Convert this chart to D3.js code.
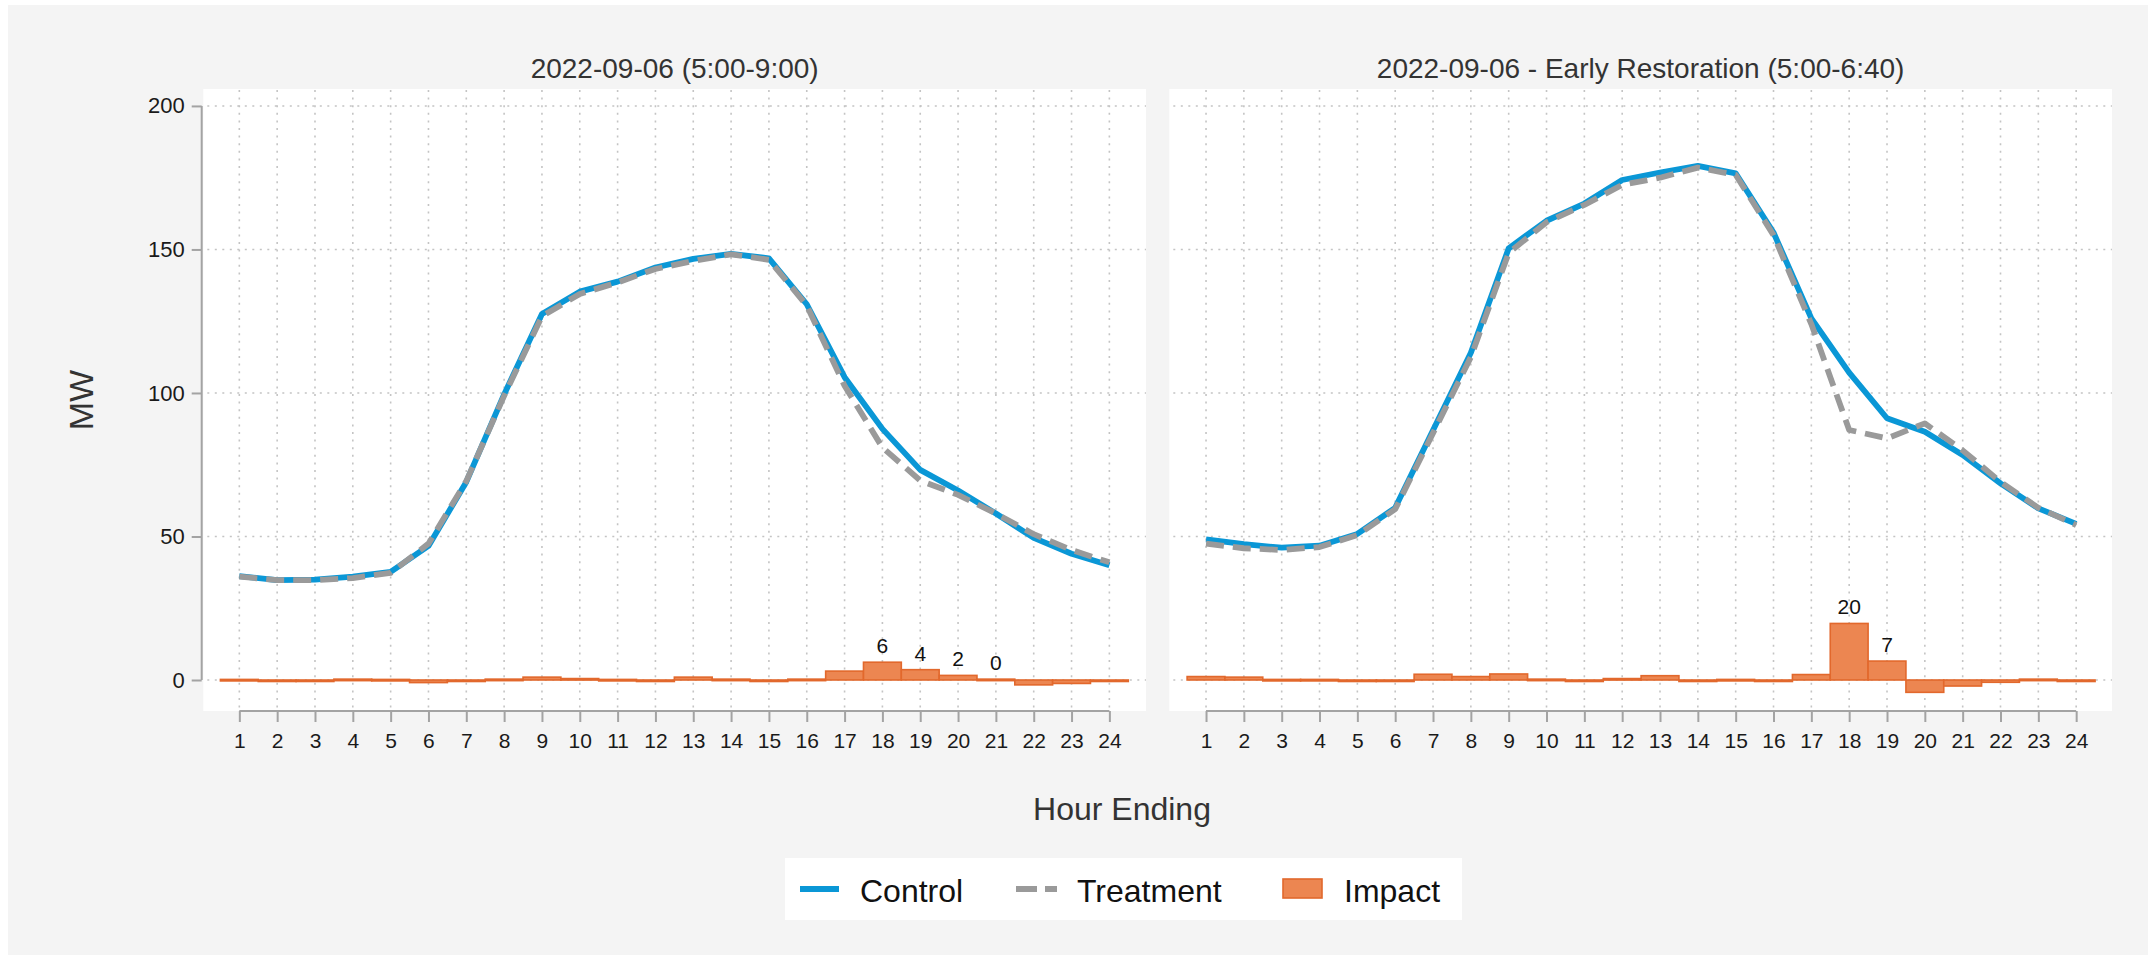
<!DOCTYPE html>
<html><head><meta charset="utf-8">
<script src="https://cdn.jsdelivr.net/npm/d3@7"></script>
<style>html,body{margin:0;padding:0;background:#fff;}svg{display:block;font-family:"Liberation Sans",Arial,sans-serif;}</style>
</head><body>
<svg id="chart" width="2156" height="960"></svg>
<script>
// ---- data ----
const hours = [1,2,3,4,5,6,7,8,9,10,11,12,13,14,15,16,17,18,19,20,21,22,23,24];
const yTicks = [0,50,100,150,200];
const panelTitles = ["2022-09-06 (5:00-9:00)", "2022-09-06 - Early Restoration (5:00-6:40)"];

const control1 = [36.2,34.8,35.0,36.0,37.7,46.7,69.0,99.5,127.5,135.3,138.8,143.7,146.7,148.5,146.9,130.9,105.5,87.5,73.2,66.0,58.0,49.5,44.0,40.0];
const treatment1 = [36.0,34.8,34.8,35.5,37.3,47.5,69.3,99.0,126.7,134.5,138.5,143.2,146.0,148.3,146.4,130.5,102.5,81.0,69.5,64.5,58.0,50.8,45.3,41.0];
const impact1 = [0.2,-0.2,-0.2,0.3,0.2,-0.9,-0.3,0.3,1.0,0.5,0.2,-0.3,1.0,0.3,-0.3,0.3,3.1,6.2,3.6,1.6,0.3,-1.7,-1.2,-0.5];
const impactLabels1 = ["","","","","","","","","","","","","","","","","","6","4","2","0","","",""];

const control2 = [49.0,47.3,46.1,46.8,50.9,60.0,87.0,114.0,150.4,160.0,166.0,174.2,176.8,179.1,176.5,155.9,126.0,107.1,91.2,86.5,78.4,68.5,59.8,54.4];
const treatment2 = [47.5,45.9,45.3,46.3,50.5,59.5,86.0,112.5,148.8,159.5,165.5,172.5,175.0,178.5,176.0,155.0,124.0,87.1,84.2,89.4,80.0,69.0,60.0,54.0];
const impact2 = [1.2,1.0,0.2,0.2,-0.2,-0.4,2.0,1.2,2.1,0.3,-0.3,0.5,1.5,-0.2,0.2,-0.3,1.9,19.7,6.6,-4.3,-2.1,-0.8,0.3,-0.2];
const impactLabels2 = ["","","","","","","","","","","","","","","","","","20","7","","","","",""];

const seriesNames = ["Control","Treatment","Impact"];

// ---- styles ----
const cBlue = "#0a97d6", cGray = "#9a9a9a", cOrangeFill = "#ec8651", cOrangeLine = "#e2682c";
const axisColor = "#a3a3a3", gridColor = "#c4c4c4";

const svg = d3.select("#chart");
svg.append("rect").attr("x",8).attr("y",5).attr("width",2140).attr("height",950).attr("fill","#f4f4f4");

const y = d3.scaleLinear().domain([-10.8, 205.9]).range([711, 89]);

const panels = [
  {title: panelTitles[0], control: control1, treatment: treatment1, impact: impact1, labels: impactLabels1, range:[201.5,1147.2], box:[203.3,1146], yAxis:true},
  {title: panelTitles[1], control: control2, treatment: treatment2, impact: impact2, labels: impactLabels2, range:[1168.2,2114], box:[1169.3,2112], yAxis:false}
];

panels.forEach(p => {
  const x = d3.scaleLinear().domain([0,25]).range(p.range);
  const g = svg.append("g");
  g.append("rect").attr("x",p.box[0]).attr("y",89).attr("width",p.box[1]-p.box[0]).attr("height",711-89).attr("fill","#fff");

  // grid
  g.append("g").selectAll("line").data(yTicks).join("line")
    .attr("x1",p.box[0]+4).attr("x2",p.box[1]).attr("y1",d=>y(d)).attr("y2",d=>y(d))
    .attr("stroke",gridColor).attr("stroke-width",1.6).attr("stroke-dasharray","2,5.5");
  g.append("g").selectAll("line").data(hours).join("line")
    .attr("x1",d=>x(d)).attr("x2",d=>x(d)).attr("y1",90).attr("y2",711)
    .attr("stroke",gridColor).attr("stroke-width",1.6).attr("stroke-dasharray","2,5.6");

  // impact bars
  const bw = x(1)-x(0);
  g.append("g").selectAll("rect").data(p.impact).join("rect")
    .attr("x",(d,i)=>x(hours[i])-bw/2).attr("width",bw)
    .attr("y",d=>y(Math.max(0,d))).attr("height",d=>Math.max(1.5,Math.abs(y(d)-y(0))))
    .attr("fill",cOrangeFill).attr("stroke",cOrangeLine).attr("stroke-width",1.6);
  g.append("g").selectAll("text").data(p.labels).join("text")
    .attr("x",(d,i)=>x(hours[i])).attr("y",(d,i)=>y(Math.max(0,p.impact[i]))-9)
    .attr("text-anchor","middle").attr("font-size",21).attr("fill","#111").text(d=>d);

  // lines
  const line = d3.line().x((d,i)=>x(hours[i])).y(d=>y(d));
  g.append("path").datum(p.control).attr("d",line).attr("fill","none")
    .attr("stroke",cBlue).attr("stroke-width",5.8).attr("stroke-linejoin","round");
  g.append("path").datum(p.treatment).attr("d",line).attr("fill","none")
    .attr("stroke",cGray).attr("stroke-width",5.8).attr("stroke-dasharray","18,9").attr("stroke-linejoin","round");

  // x axis
  const xa = g.append("g").attr("transform","translate(0,711)")
    .call(d3.axisBottom(x).tickValues(hours).tickSize(11).tickPadding(11).tickSizeOuter(0));
  xa.select(".domain").attr("d",`M${x(1)},0H${x(24)}`).attr("stroke",axisColor).attr("stroke-width",2);
  xa.selectAll(".tick line").attr("stroke",axisColor).attr("stroke-width",2);
  xa.selectAll(".tick text").attr("font-size",21).attr("fill","#1a1a1a").attr("font-family","Liberation Sans, Arial, sans-serif");

  if (p.yAxis) {
    const ya = svg.append("g").attr("transform","translate(201.7,0)")
      .call(d3.axisLeft(y).tickValues(yTicks).tickSize(10).tickPadding(7).tickSizeOuter(0));
    ya.select(".domain").attr("d",`M0,${y(200)}V${y(0)}`).attr("stroke",axisColor).attr("stroke-width",2);
    ya.selectAll(".tick line").attr("stroke",axisColor).attr("stroke-width",2);
    ya.selectAll(".tick text").attr("font-size",22).attr("fill","#1a1a1a").attr("font-family","Liberation Sans, Arial, sans-serif");
  }

  // title
  svg.append("text").attr("x",(p.box[0]+p.box[1])/2).attr("y",77.5).attr("text-anchor","middle")
    .attr("font-size",28).attr("fill","#333").text(p.title);
});

// axis titles
svg.append("text").attr("transform","translate(93,400) rotate(-90)").attr("text-anchor","middle")
  .attr("font-size",34).attr("fill","#333").text("MW");
svg.append("text").attr("x",1122).attr("y",820).attr("text-anchor","middle")
  .attr("font-size",32).attr("fill","#333").text("Hour Ending");

// legend
const lg = svg.append("g");
lg.append("rect").attr("x",785).attr("y",858).attr("width",677).attr("height",62).attr("fill","#fff");
lg.append("line").attr("x1",800).attr("x2",839).attr("y1",889).attr("y2",889).attr("stroke",cBlue).attr("stroke-width",6);
lg.append("text").attr("x",860).attr("y",902).attr("font-size",32).attr("fill","#111").text(seriesNames[0]);
lg.append("line").attr("x1",1016).attr("x2",1057).attr("y1",889).attr("y2",889).attr("stroke",cGray).attr("stroke-width",6).attr("stroke-dasharray","21,8");
lg.append("text").attr("x",1077).attr("y",902).attr("font-size",32).attr("fill","#111").text(seriesNames[1]);
lg.append("rect").attr("x",1283).attr("y",879).attr("width",39).attr("height",19).attr("fill",cOrangeFill).attr("stroke",cOrangeLine).attr("stroke-width",1.6);
lg.append("text").attr("x",1344).attr("y",902).attr("font-size",32).attr("fill","#111").text(seriesNames[2]);
</script>
</body></html>
